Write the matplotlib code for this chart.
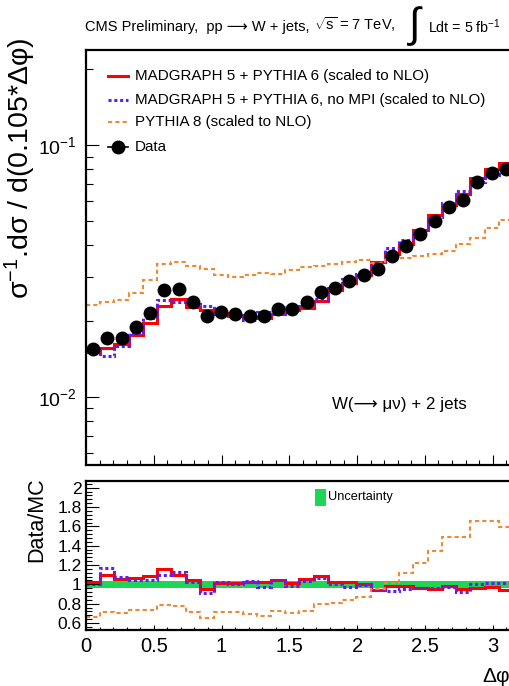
import numpy as np
import matplotlib
matplotlib.use("Agg")
import matplotlib.pyplot as plt
from matplotlib.lines import Line2D
from matplotlib.patches import Rectangle
from matplotlib.ticker import MultipleLocator, LogLocator, FuncFormatter, NullFormatter

FONT = ["Liberation Sans", "DejaVu Sans"]
plt.rcParams["font.family"] = FONT
plt.rcParams["mathtext.fontset"] = "custom"
plt.rcParams["mathtext.rm"] = "Liberation Sans"
plt.rcParams["mathtext.it"] = "Liberation Sans"
plt.rcParams["mathtext.sf"] = "Liberation Sans"
plt.rcParams["mathtext.bf"] = "Liberation Sans:bold"

# ---- Delta-phi distribution, W(->mu nu) + 2 jets -------------------------
bin_width = 0.105
n_bins = 30

data = [0.01545, 0.0171, 0.01717, 0.0189, 0.0215, 0.0266, 0.0268, 0.0238,
        0.0210, 0.0218, 0.0213, 0.0210, 0.0210, 0.0223, 0.0223, 0.0238,
        0.0262, 0.0270, 0.0288, 0.0305, 0.0322, 0.0363, 0.0398, 0.0442,
        0.0499, 0.0569, 0.0605, 0.0711, 0.0777, 0.0801]

# Data/MC ratios per bin
ratio_mg5 = [1.022, 1.097, 1.056, 1.070, 1.090, 1.157, 1.097, 1.046,
             0.952, 1.011, 1.015, 1.020, 1.020, 1.046, 1.010, 1.053,
             1.090, 1.020, 1.020, 1.000, 0.942, 0.987, 0.987, 0.960,
             0.950, 0.985, 0.950, 0.960, 0.970, 0.942]
ratio_nompi = [1.000, 1.173, 1.073, 1.049, 1.049, 1.097, 1.125, 1.021,
               0.914, 1.021, 1.004, 1.035, 0.970, 1.046, 0.983, 1.035,
               1.070, 1.000, 0.976, 0.990, 0.942, 0.930, 0.950, 0.965,
               0.965, 0.970, 0.918, 1.000, 1.018, 1.010]
ratio_py8 = [0.665, 0.717, 0.707, 0.734, 0.737, 0.786, 0.780, 0.717,
             0.655, 0.717, 0.710, 0.690, 0.676, 0.724, 0.700, 0.724,
             0.793, 0.804, 0.838, 0.872, 0.950, 1.010, 1.115, 1.220,
             1.346, 1.495, 1.495, 1.660, 1.660, 1.590]

unc_lo = [0.962] * 30
unc_hi = [1.036] * 30

labels = ["MADGRAPH 5 + PYTHIA 6 (scaled to NLO)",
          "MADGRAPH 5 + PYTHIA 6, no MPI (scaled to NLO)",
          "PYTHIA 8 (scaled to NLO)",
          "Data"]

RED = "#ff0000"
BLUE = "#5a1eff"
ORANGE = "#ee8a35"
GREEN = "#1ed655"

edges = np.arange(n_bins + 1) * bin_width
centers = edges[:-1] + bin_width / 2
data_a = np.array(data)
mg5 = data_a / np.array(ratio_mg5)
nompi = data_a / np.array(ratio_nompi)
py8 = data_a / np.array(ratio_py8)

W, H = 510, 686
fig = plt.figure(figsize=(W / 100, H / 100), dpi=100)
ax = fig.add_axes([86 / W, (H - 465) / H, 427 / W, 415 / H])
axr = fig.add_axes([86 / W, (H - 630) / H, 427 / W, 149 / H])

red_kw = dict(color=RED, lw=2.2)
blue_kw = dict(color=BLUE, lw=2.2, linestyle=(0, (1, 0.9)))
orange_kw = dict(color=ORANGE, lw=1.5, linestyle=(0, (2, 1.5)))

# main panel
ax.stairs(mg5, edges, baseline=None, **red_kw)
ax.stairs(nompi, edges, baseline=None, **blue_kw)
ax.stairs(py8, edges, baseline=None, **orange_kw)
ax.plot(centers, data_a, "o", color="black", ms=9, zorder=5)

ax.set_yscale("log")
ax.set_xlim(0, 3.15)
ax.set_ylim(0.00537, 0.2383)
ax.yaxis.set_major_locator(LogLocator(base=10, numticks=10))
ax.yaxis.set_minor_locator(LogLocator(base=10, subs=np.arange(2, 10), numticks=20))
ax.yaxis.set_major_formatter(FuncFormatter(lambda v, p: r"10$^{%d}$" % round(np.log10(v))))
ax.yaxis.set_minor_formatter(NullFormatter())
ax.xaxis.set_major_locator(MultipleLocator(0.5))
ax.xaxis.set_minor_locator(MultipleLocator(0.1))
ax.tick_params(axis="x", which="both", labelbottom=False, direction="in")
ax.tick_params(axis="x", which="major", length=7, width=0.8)
ax.tick_params(axis="x", which="minor", length=3.6, width=0.8)
ax.tick_params(axis="y", which="both", direction="in", labelsize=14, pad=7)
ax.tick_params(axis="y", which="major", length=9, width=0.8)
ax.tick_params(axis="y", which="minor", length=5, width=0.8)

# ratio panel
axr.stairs(unc_hi, edges, baseline=unc_lo, fill=True, color=GREEN, lw=0)
axr.stairs(ratio_mg5, edges, baseline=None, **red_kw)
axr.stairs(ratio_nompi, edges, baseline=None, **blue_kw)
axr.stairs(ratio_py8, edges, baseline=None, **orange_kw)
axr.set_xlim(0, 3.15)
axr.set_ylim(0.527, 2.07)
axr.xaxis.set_major_locator(MultipleLocator(0.5))
axr.xaxis.set_minor_locator(MultipleLocator(0.1))
axr.yaxis.set_major_locator(MultipleLocator(0.2))
axr.yaxis.set_minor_locator(MultipleLocator(0.04))
fmt = FuncFormatter(lambda v, p: "%g" % round(v, 2))
axr.xaxis.set_major_formatter(fmt)
axr.yaxis.set_major_formatter(fmt)
axr.tick_params(axis="x", which="both", direction="in", labelsize=14.5, pad=5)
axr.tick_params(axis="x", which="major", length=3.6, width=0.8)
axr.tick_params(axis="x", which="minor", length=2, width=0.8)
axr.tick_params(axis="y", which="both", direction="in", labelsize=12.5, pad=3)
axr.tick_params(axis="y", which="major", length=9, width=0.8)
axr.tick_params(axis="y", which="minor", length=4.5, width=0.8)

for a in (ax, axr):
    for s in a.spines.values():
        s.set_linewidth(1.6)

# axis titles
fig.text(20 / W, 1 - 38 / H, "σ$^{-1}$.dσ / d(0.105*Δφ)", rotation=90,
         ha="center", va="top", size=20.5)
fig.text(37 / W, 1 - 477 / H, "Data/MC", rotation=90, ha="center", va="top", size=15.5)
fig.text(510 / W, 1 - 676 / H, "Δφ", ha="right", va="center", size=15)

# header: plain-text part (with the arrow), then the sqrt(s) part chained after it
head_a = fig.text(85 / W, 1 - 27 / H, "CMS Preliminary,  pp ⟶ W + jets,",
                  ha="left", va="baseline", size=10.5)
head_a.set_y(1 - 31 / H)
ax.annotate(r"$\sqrt{s}$ = 7 TeV,", xy=(1, 0), xycoords=head_a,
            xytext=(3, 0), textcoords="offset points",
            ha="left", va="bottom", size=10.5, annotation_clip=False)
fig.text(415 / W, 1 - 26 / H, "∫", ha="center", va="center", size=30)
fig.text(428 / W, 1 - 27 / H, r"Ldt = 5 fb$^{-1}$", ha="left", va="center", size=10.3)

# process label
fig.text(332 / W, 1 - 404 / H, "W(⟶ μν) + 2 jets", ha="left", va="center", size=12.2)

# legend
leg_y = [76, 100, 122, 147]
leg_styles = [red_kw, blue_kw, orange_kw, dict(color="black", lw=1.2)]
for lab, yy, st in zip(labels, leg_y, leg_styles):
    yf = 1 - yy / H
    fig.add_artist(Line2D([108 / W, 128 / W], [yf, yf], transform=fig.transFigure, **st))
    fig.text(135 / W, yf, lab, ha="left", va="center", size=10.9)
fig.add_artist(Line2D([118 / W], [1 - leg_y[3] / H], transform=fig.transFigure,
                      marker="o", ms=9, color="black", lw=0))

# uncertainty key
fig.add_artist(Rectangle((315 / W, 1 - 506 / H), 11 / W, 17 / H,
                         transform=fig.transFigure, color=GREEN, lw=0))
fig.text(328 / W, 1 - 497 / H, "Uncertainty", ha="left", va="center", size=9.2)

fig.savefig("out.png", dpi=100)
